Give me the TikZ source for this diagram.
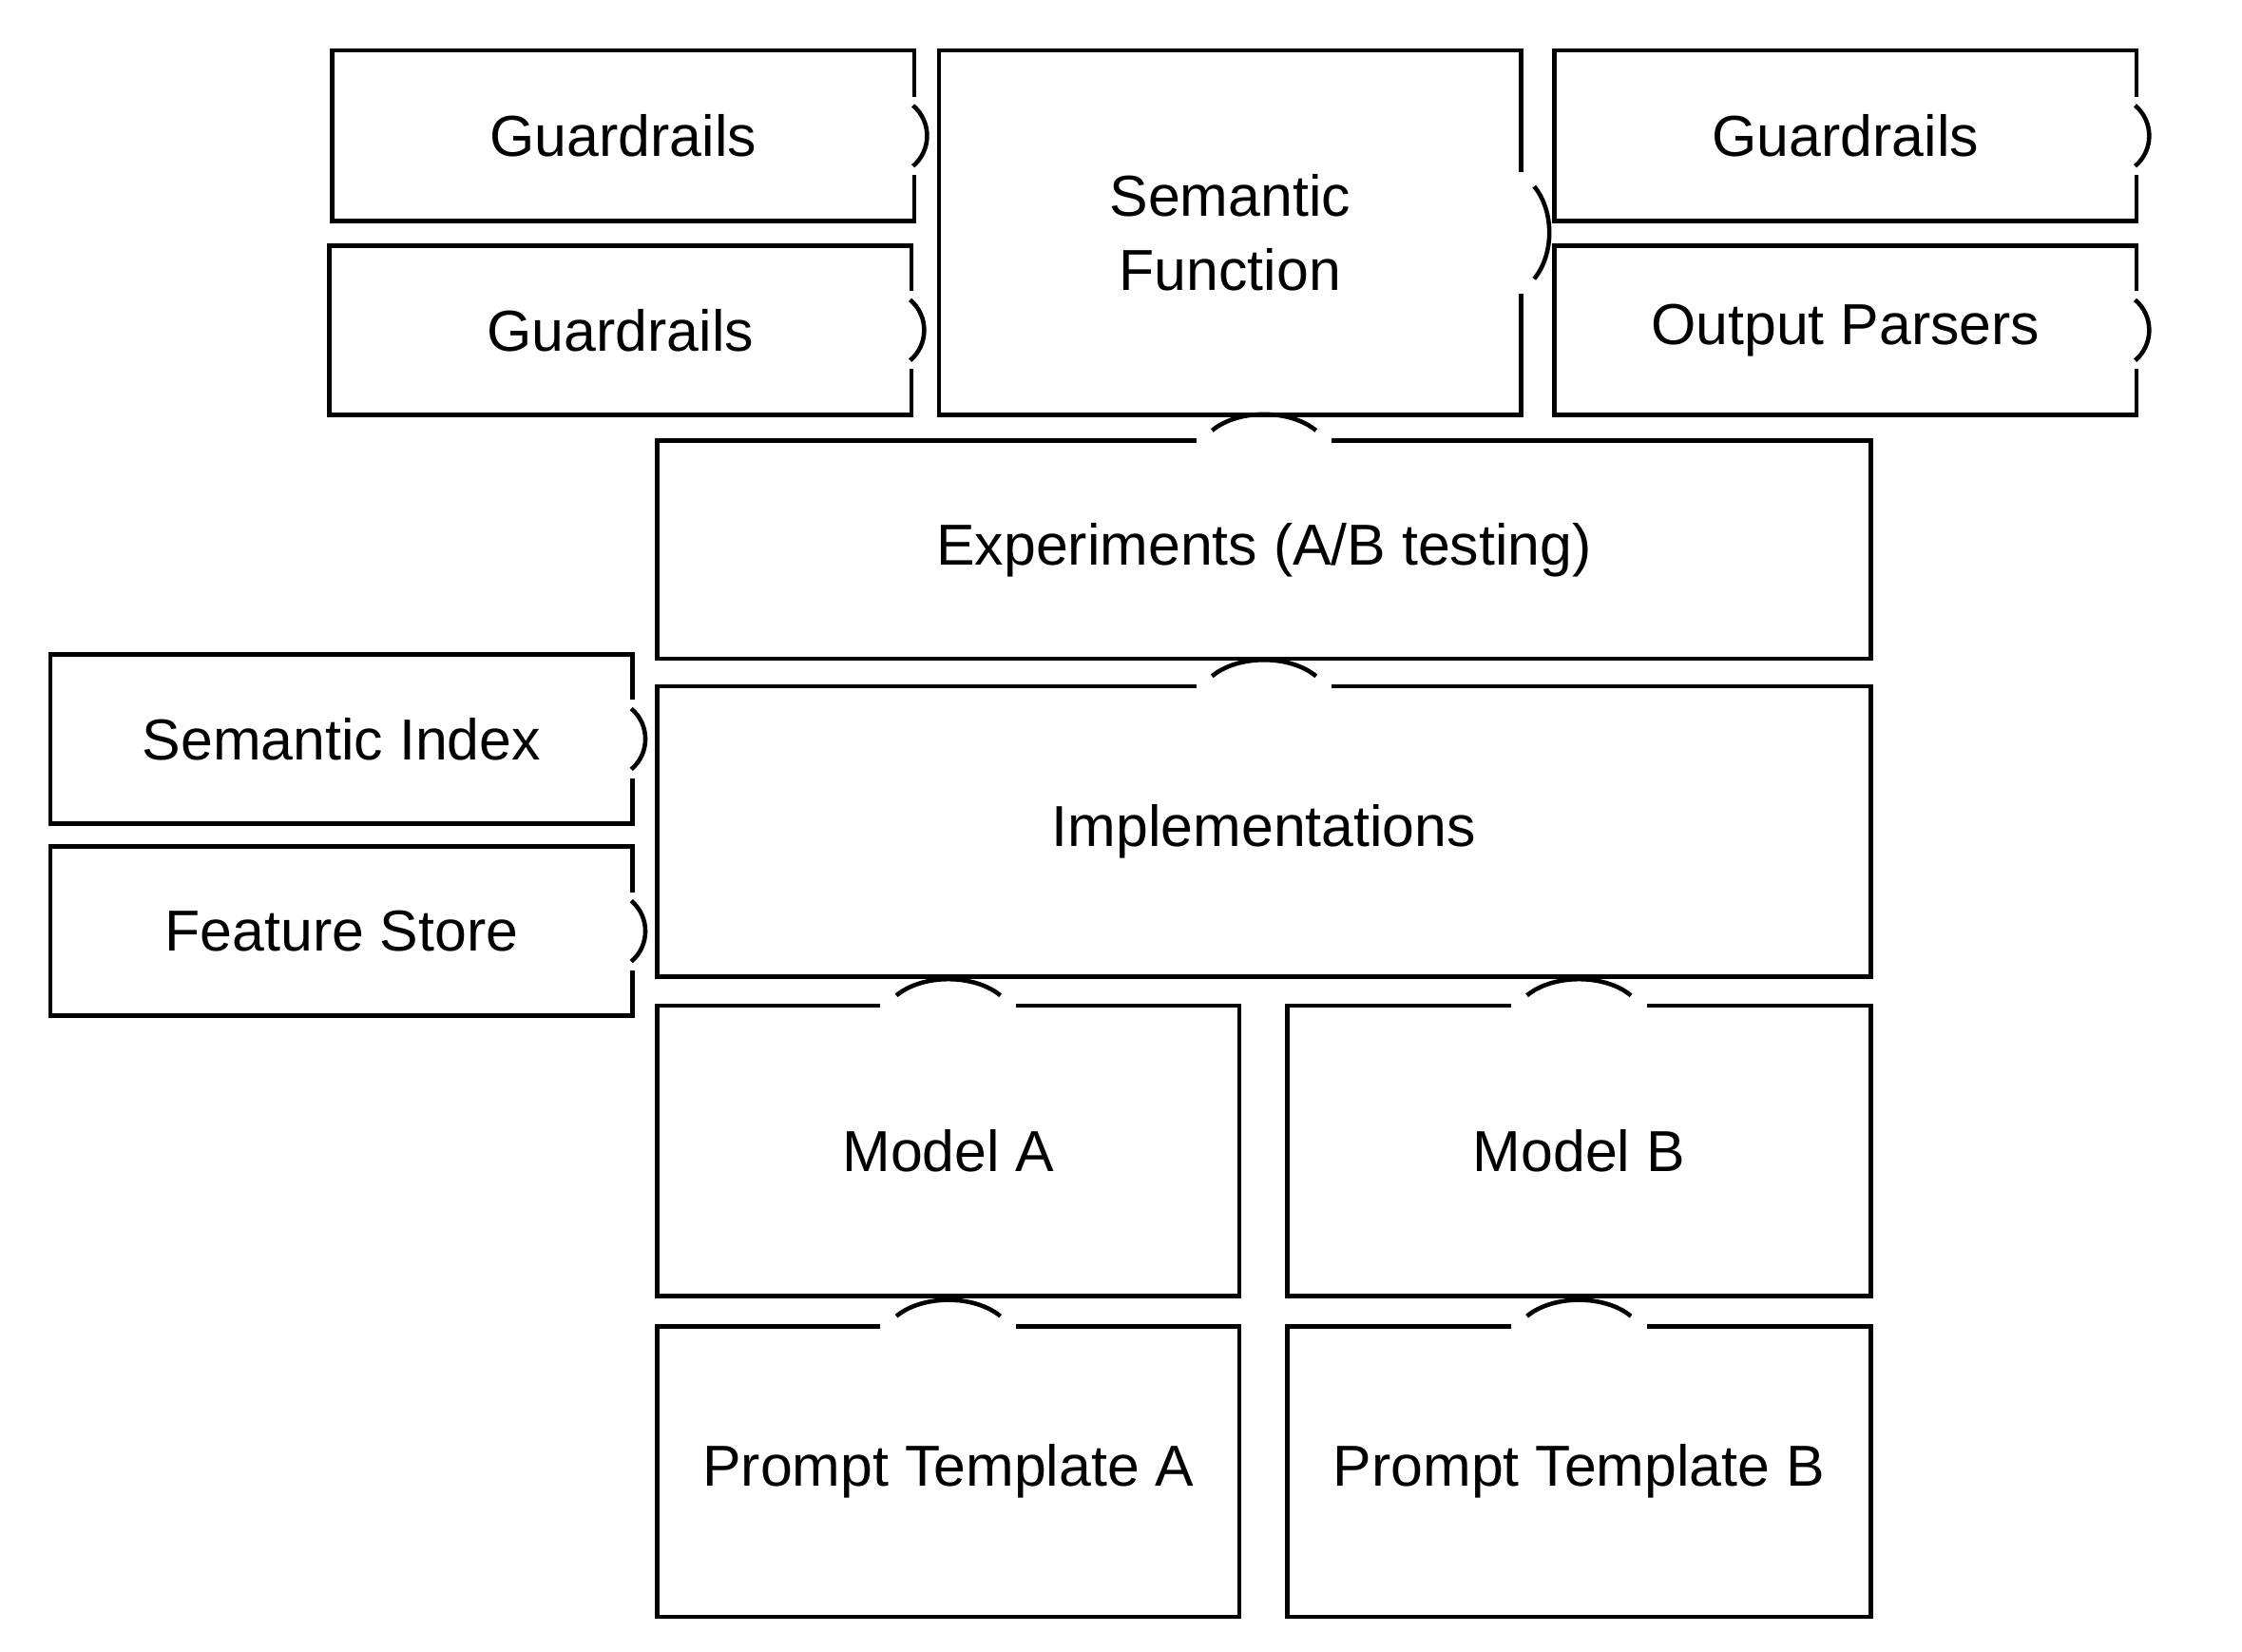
\documentclass[tikz,border=0pt]{standalone}
\usepackage{fontspec}
\setmainfont{Liberation Sans}
\begin{document}
\begin{tikzpicture}[x=1pt,y=-1pt,
 box/.style={draw,line width=3pt,inner sep=0pt,outer sep=0pt,align=center,font=\fontsize{40}{51}\selectfont},
 arcl/.style={line width=3pt}]
\useasboundingbox[fill=white] (0,0) rectangle (1552,1143);
\newcommand\ifR[1]{\fill[white] ([shift={(-4,-27)}]#1.east) rectangle ([shift={(4,27)}]#1.east);
 \draw[arcl] ([shift={(-1,-21)}]#1.east) .. controls ([shift={(12,-10)}]#1.east) and ([shift={(12,10)}]#1.east) .. ([shift={(-1,21)}]#1.east);}
\newcommand\ifT[1]{\fill[white] ([shift={(-47,-4)}]#1.north) rectangle ([shift={(47,4)}]#1.north);
 \draw[arcl] ([shift={(-36,-7)}]#1.north) .. controls ([shift={(-18,-22)}]#1.north) and ([shift={(18,-22)}]#1.north) .. ([shift={(36,-7)}]#1.north);}
\node[box,minimum width=403,minimum height=118] (g1) at (431.5,94) {Guardrails};
\node[box,minimum width=403,minimum height=117] (g2) at (429.5,228.5) {Guardrails};
\node[box,minimum width=403,minimum height=252] (sf) at (851.5,161) {Semantic\\Function};
\node[box,minimum width=403,minimum height=118] (g3) at (1277.5,94) {Guardrails};
\node[box,minimum width=403,minimum height=117] (op) at (1277.5,228.5) {Output Parsers};
\node[box,minimum width=840,minimum height=151] (ex) at (875,380.5) {Experiments (A/B testing)};
\node[box,minimum width=840,minimum height=201] (im) at (875,575.5) {Implementations};
\node[box,minimum width=403,minimum height=117] (si) at (236.5,511.5) {Semantic Index};
\node[box,minimum width=403,minimum height=117] (fs) at (236.5,644.5) {Feature Store};
\node[box,minimum width=403,minimum height=201] (ma) at (656.5,796.5) {Model A};
\node[box,minimum width=404,minimum height=201] (mb) at (1093,796.5) {Model B};
\node[box,minimum width=403,minimum height=201] (pa) at (656.5,1018.5) {Prompt Template A};
\node[box,minimum width=404,minimum height=201] (pb) at (1093,1018.5) {Prompt Template B};
\ifR{g1}\ifR{g2}\ifR{g3}\ifR{op}\ifR{si}\ifR{fs}
\fill[white] ([shift={(-4,-42)}]sf.east) rectangle ([shift={(4,42)}]sf.east);
\draw[arcl] ([shift={(9,-32)}]sf.east) .. controls ([shift={(23,-15)}]sf.east) and ([shift={(23,15)}]sf.east) .. ([shift={(9,32)}]sf.east);
\ifT{ex}\ifT{im}\ifT{ma}\ifT{mb}\ifT{pa}\ifT{pb}
\end{tikzpicture}
\end{document}
